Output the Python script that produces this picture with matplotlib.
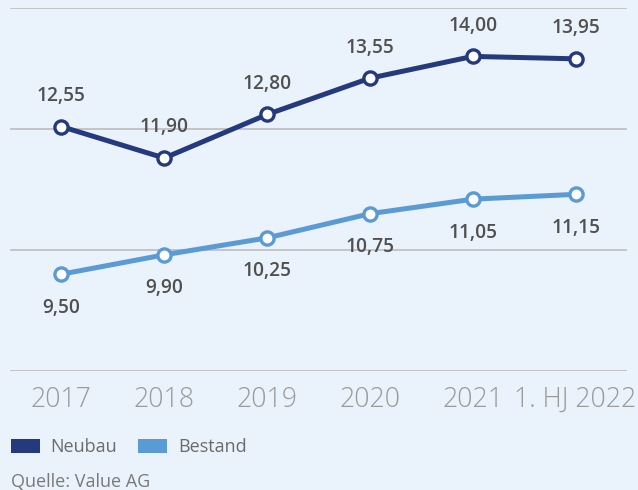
import matplotlib
matplotlib.use("Agg")
import matplotlib.pyplot as plt
from matplotlib.patches import Patch

plt.rcParams['font.family'] = ['Open Sans', 'DejaVu Sans']

categories = ["2017", "2018", "2019", "2020", "2021", "1. HJ 2022"]
neubau = [12.55, 11.90, 12.80, 13.55, 14.00, 13.95]
bestand = [9.50, 9.90, 10.25, 10.75, 11.05, 11.15]
series_names = ["Neubau", "Bestand"]
source = "Quelle: Value AG"

bg = "#eaf2fb"
c_neu = "#243a7d"
c_bes = "#5b9bd5"

fig = plt.figure(figsize=(6.38, 4.90), dpi=100, facecolor=bg)
ax = fig.add_axes([10/638, 1-371/490, 617/638, 363/490], facecolor=bg)

x = list(range(len(categories)))
for vals, col in [(neubau, c_neu), (bestand, c_bes)]:
    ax.plot(x, vals, color=col, lw=3.6, marker='o', markersize=9.5,
            markerfacecolor='white', markeredgecolor=col, markeredgewidth=2.4,
            solid_joinstyle='round', zorder=3)

def fmt(v):
    return f"{v:.2f}".replace('.', ',')

for xi, v in zip(x, neubau):
    ax.annotate(fmt(v), (xi, v), xytext=(0, 22), textcoords='offset points',
                ha='center', va='center', fontsize=13.8, fontweight='semibold', color='#505050')
for xi, v in zip(x, bestand):
    ax.annotate(fmt(v), (xi, v), xytext=(0, -24), textcoords='offset points',
                ha='center', va='center', fontsize=13.8, fontweight='semibold', color='#505050')

ax.set_xlim(-0.5, len(categories) - 0.5)
ax.set_ylim(7.5, 15.0)
ax.set_yticks([7.5, 10.0, 12.5, 15.0])
ax.yaxis.grid(True, color='#b8b8b8', lw=1.1)
ax.set_axisbelow(True)
ax.tick_params(axis='y', left=False, labelleft=False)
ax.set_xticks(x)
ax.set_xticklabels(categories, fontsize=19.2, color='#9a9a9a', fontweight='light')
ax.tick_params(axis='x', length=0, pad=11)
for s in ax.spines.values():
    s.set_visible(False)

handles = [Patch(facecolor=c_neu, edgecolor='none'), Patch(facecolor=c_bes, edgecolor='none')]
leg = fig.legend(handles, series_names, loc='center left', bbox_to_anchor=(11/638, 1-447/490),
                 ncol=2, frameon=False, fontsize=13, handlelength=1.6, handleheight=0.78,
                 handletextpad=0.6, columnspacing=1.15, borderpad=0, borderaxespad=0)
for t in leg.get_texts():
    t.set_color('#6b6b6b')

fig.text(11/638, 1-482/490, source, fontsize=13, color='#7a7a7a', ha='left', va='center')

fig.savefig("out.png", dpi=100, facecolor=bg)
